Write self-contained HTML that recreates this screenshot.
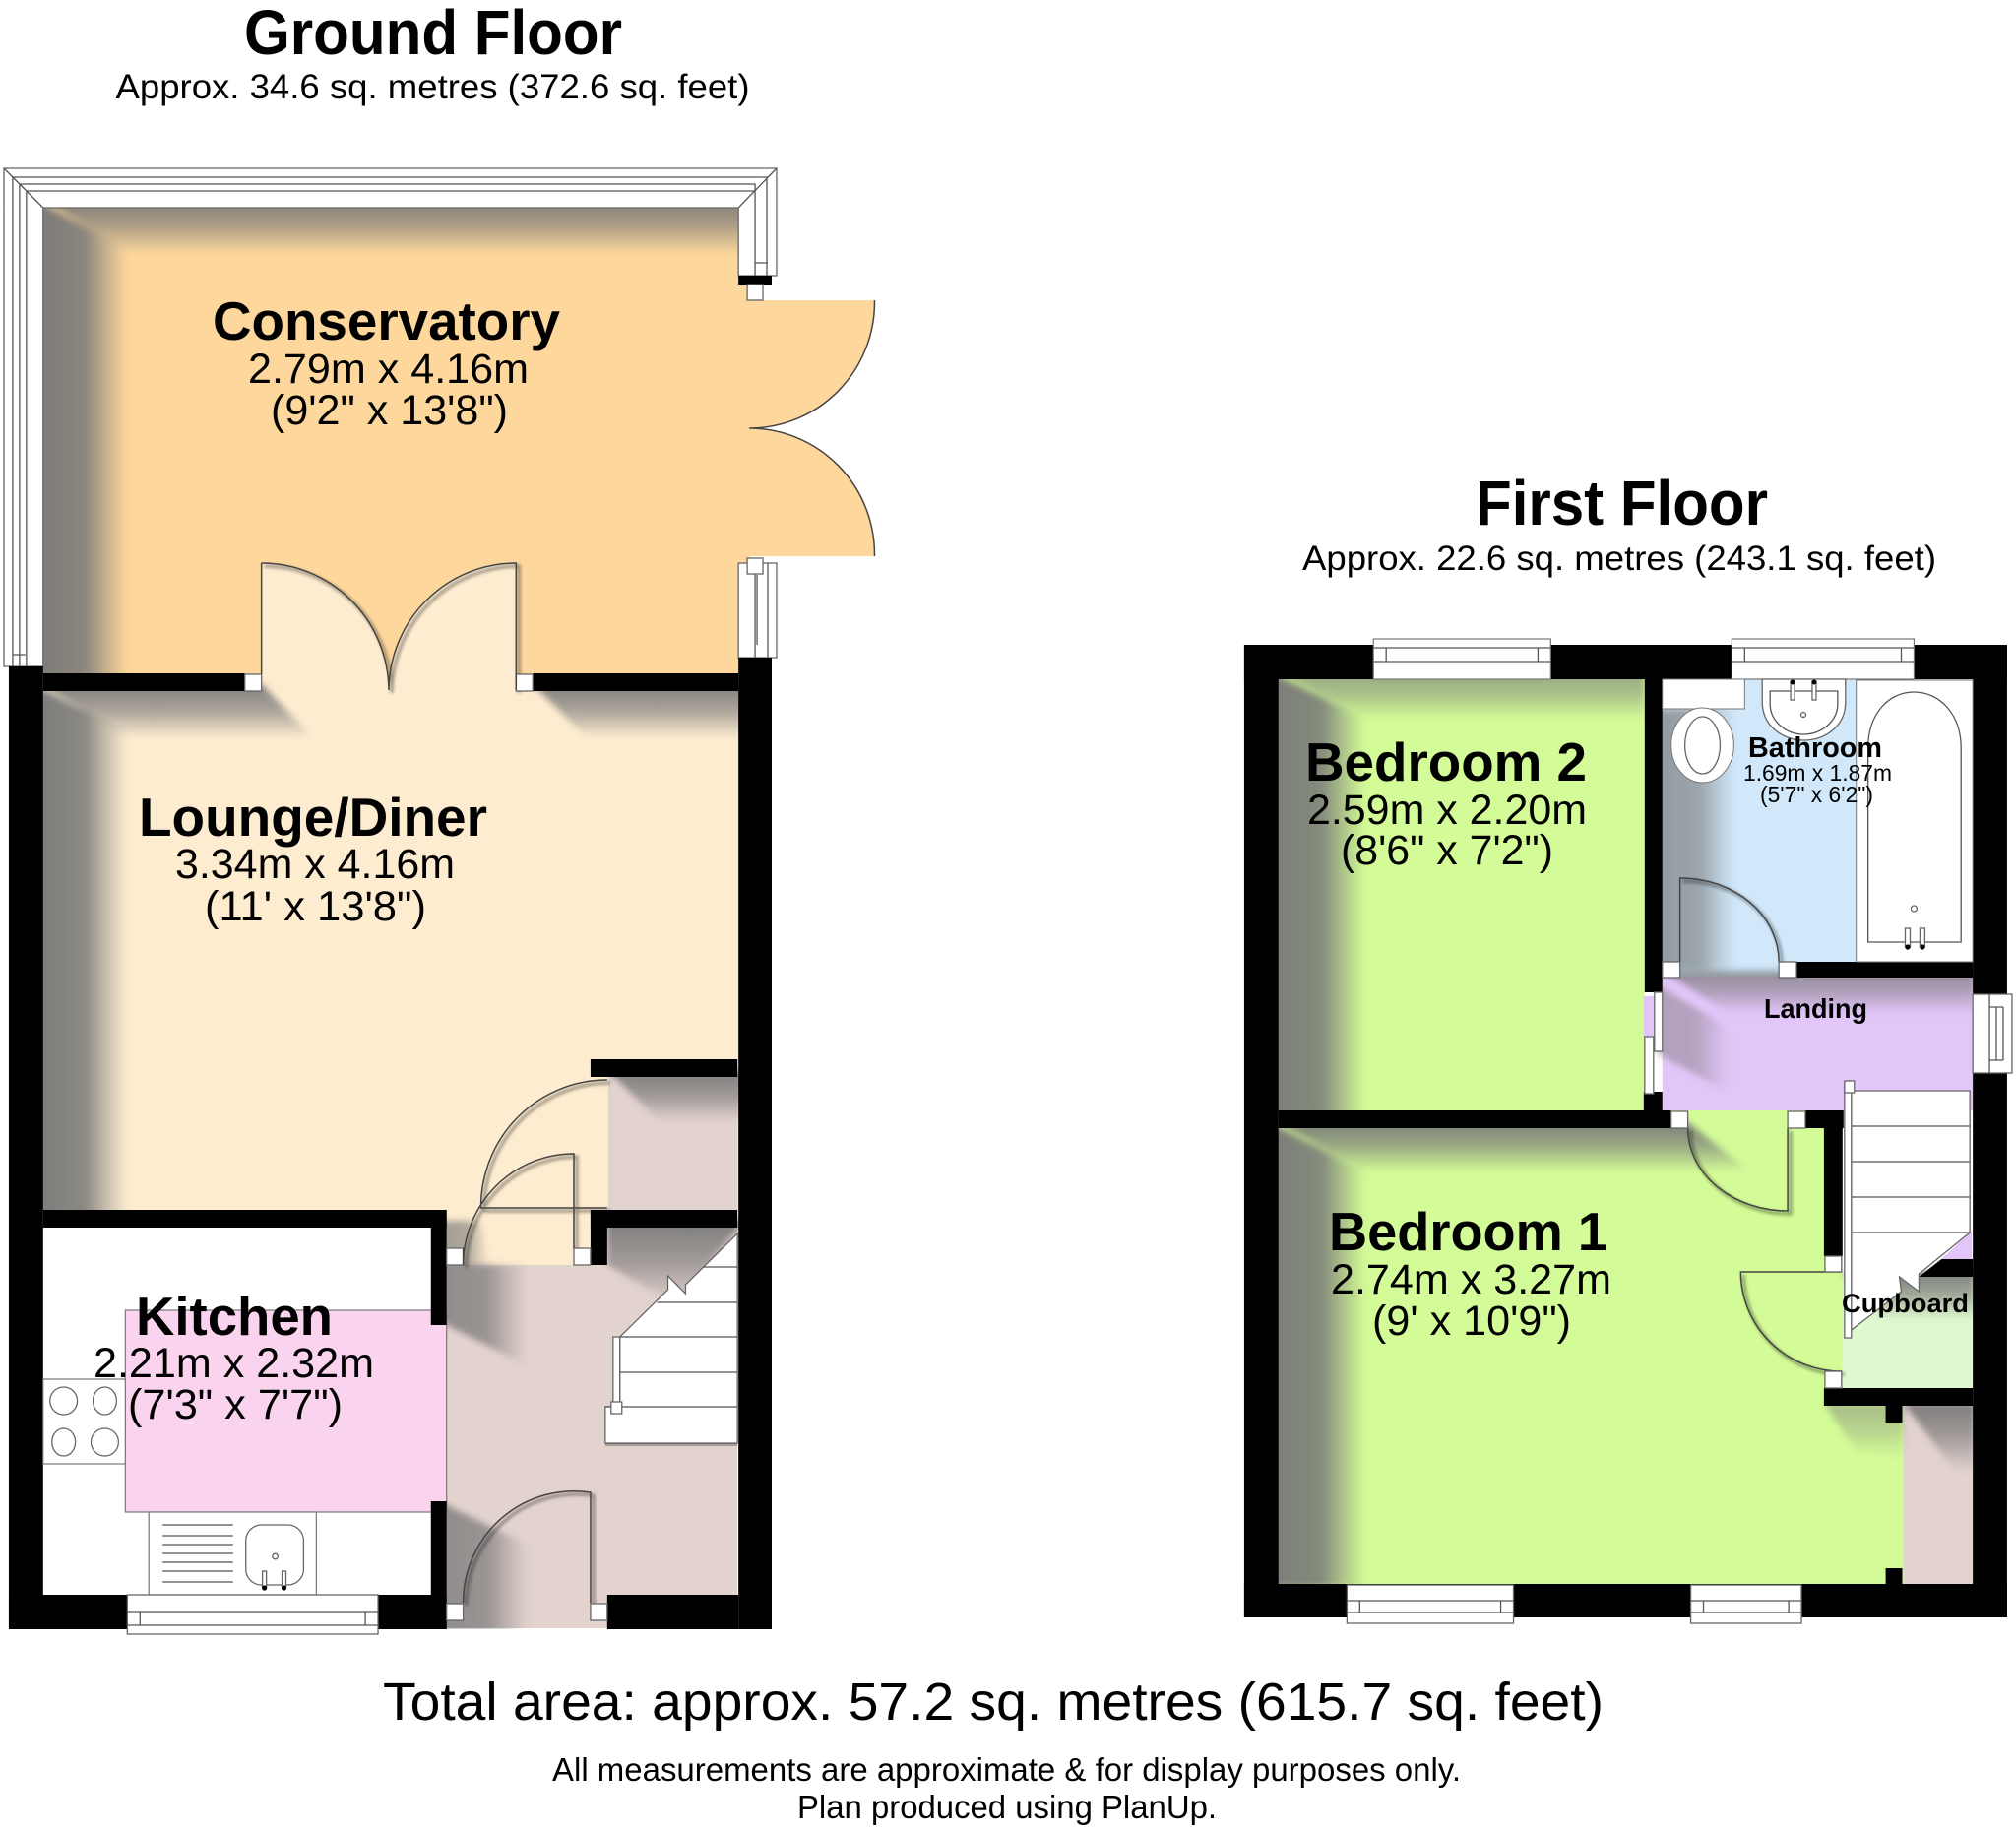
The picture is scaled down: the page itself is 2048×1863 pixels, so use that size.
<!DOCTYPE html>
<html><head><meta charset="utf-8"><title>Floor plan</title>
<style>html,body{margin:0;padding:0;background:#fff}svg{display:block}text{font-family:"Liberation Sans",Arial,sans-serif;fill:#000}.b{font-weight:bold}.l{fill:none;stroke:#555;stroke-width:1.3}.w{fill:#fff;stroke:#666;stroke-width:1.3}.d{fill:none;stroke:#444;stroke-width:1.5}</style></head>
<body>
<svg xmlns="http://www.w3.org/2000/svg" width="2048" height="1863" viewBox="0 0 2048 1863">
<defs>
<linearGradient id="sl" x1="0" x2="1" y1="0" y2="0"><stop offset="0" stop-color="#777" stop-opacity=".97"/><stop offset=".55" stop-color="#777" stop-opacity=".85"/><stop offset=".8" stop-color="#777" stop-opacity=".35"/><stop offset="1" stop-color="#777" stop-opacity="0"/></linearGradient>
<linearGradient id="st" x1="0" x2="0" y1="0" y2="1"><stop offset="0" stop-color="#777" stop-opacity=".95"/><stop offset=".5" stop-color="#777" stop-opacity=".6"/><stop offset="1" stop-color="#777" stop-opacity="0"/></linearGradient>
<filter id="bl" x="-20%" y="-20%" width="140%" height="140%"><feGaussianBlur stdDeviation="1.6"/></filter>
<filter id="bs" filterUnits="userSpaceOnUse" x="0" y="0" width="2100" height="1863"><feGaussianBlur stdDeviation="3.5"/></filter>
</defs>
<rect width="2048" height="1863" fill="#fff"/>

<!-- ========== GROUND FLOOR ========== -->
<g transform="scale(.9949 1)">
<rect x="44" y="210" width="710" height="476" fill="#fdd79c"/>
<path d="M754 290H765V305H893A128 128 0 0 1 765 435A128 128 0 0 1 893 565H765V680H754Z" fill="#fdd79c"/>
<rect x="44" y="700" width="710" height="530" fill="#fdecd0"/>
<path d="M267 701V572A130 130 0 0 1 397 701A130 130 0 0 1 527 572V701Z" fill="#fdecd0"/>
<rect x="456" y="1229" width="147" height="56" fill="#fdecd0"/>
<rect x="621" y="1093" width="132" height="137" fill="#e3d3cf"/>
<rect x="44" y="1247" width="396" height="373" fill="#fff"/>
<path d="M456 1285H753V1654H456Z" fill="#e3d3cf"/>
<rect x="603" y="1247" width="150" height="40" fill="#e3d3cf"/>

<g filter="url(#bs)">
<polygon points="34,201 130,255 130,690 34,690" fill="url(#sl)"/>
<polygon points="44,201 760,201 760,258 130,258" fill="url(#st)"/>
<polygon points="34,695 130,745 130,1235 34,1235" fill="url(#sl)"/>
<polygon points="44,695 267,695 320,750 130,750" fill="url(#st)"/>
<polygon points="544,695 760,695 760,750 600,750" fill="url(#st)"/>
<polygon points="621,1088 760,1088 760,1140 675,1140" fill="url(#st)"/>
<polygon points="448,1285 538,1285 538,1387 448,1342" fill="url(#sl)" opacity=".8"/>
<polygon points="448,1525 540,1570 540,1660 448,1660" fill="url(#sl)" opacity=".8"/>
<polygon points="620,1240 760,1240 690,1325 620,1285" fill="url(#st)"/>
<polygon points="448,1240 490,1240 500,1285 448,1285" fill="url(#sl)" opacity=".7"/>
</g>
<rect x="440" y="1654.5" width="190" height="14" fill="#fff"/>
<rect x="128" y="1331" width="328" height="205" fill="#fad4ef" stroke="#777" stroke-width="1.2"/>

<g fill="none" stroke="#000" stroke-opacity=".4" stroke-width="3" filter="url(#bl)" transform="translate(3,3)">
<path d="M267 572A130 130 0 0 1 397 701A130 130 0 0 1 527 572V701"/>
<path d="M620 1097A129 129 0 0 0 491 1227H620M473 1285A113 113 0 0 1 586 1172V1268"/>
<path d="M473 1628A113 113 0 0 1 603 1516V1628"/>
</g>

<path d="M4 171H793V280H754V211H44V677H4Z" class="w"/>
<path d="M13 677V180H783V280M20 677V187H771V280M27 677V194H771M4 171L44 211M793 171L754 211M13 665H26M771 267H784" class="l"/>
<rect x="754" y="280" width="34" height="9" fill="#000"/>
<rect x="763" y="289" width="16" height="16" class="w"/>
<rect x="754" y="572" width="39" height="96" class="w"/>
<path d="M771 572V668M784 572V668M773 584V655" class="l"/>
<rect x="763" y="567" width="16" height="16" class="w"/>
<path d="M893 305A128 128 0 0 1 765 435A128 128 0 0 1 893 565" class="d"/>

<g fill="#000">
<rect x="9" y="677" width="35" height="978"/>
<rect x="754" y="668" width="34" height="987"/>
<rect x="44" y="684" width="206" height="18"/>
<rect x="544" y="684" width="210" height="18"/>
<rect x="603" y="1076" width="150" height="18"/>
<rect x="44" y="1229" width="412" height="18"/>
<rect x="440" y="1229" width="16" height="117"/>
<rect x="603" y="1229" width="150" height="18"/>
<rect x="603" y="1229" width="17" height="56"/>
<rect x="440" y="1525" width="16" height="130"/>
<rect x="9" y="1620" width="121" height="35"/>
<rect x="386" y="1620" width="70" height="35"/>
<rect x="620" y="1620" width="134" height="35"/>
</g>
<rect x="250" y="685" width="17" height="17" class="w"/>
<rect x="527" y="685" width="17" height="17" class="w"/>
<rect x="456" y="1268" width="17" height="17" class="w"/>
<rect x="586" y="1268" width="17" height="17" class="w"/>
<rect x="456" y="1629" width="17" height="17" class="w"/>
<rect x="603" y="1629" width="17" height="17" class="w"/>

<path d="M267 572A130 130 0 0 1 397 701A130 130 0 0 1 527 572V701" class="d"/>
<path d="M267 572V685" class="d"/>
<path d="M620 1097A129 129 0 0 0 491 1227H620M473 1268V1285A113 113 0 0 1 586 1172V1268" class="d"/>
<path d="M473 1628A113 113 0 0 1 603 1516V1628" class="d"/>

<rect x="44" y="1401" width="84" height="86" fill="#fff" stroke="#777" stroke-width="1.2"/>
<ellipse cx="65" cy="1423" rx="14" ry="14" class="w"/><ellipse cx="107" cy="1423" rx="12" ry="14" class="w"/>
<ellipse cx="65" cy="1465" rx="12" ry="14" class="w"/><ellipse cx="107" cy="1465" rx="14" ry="14" class="w"/>
<rect x="152" y="1536" width="171" height="84" fill="#fff" stroke="#777" stroke-width="1.2"/>
<path d="M166 1549H238M166 1560H238M166 1569H238M166 1578H238M166 1587H238M166 1596H238M166 1607H238" class="l"/>
<rect x="251" y="1549" width="59" height="61" rx="16" class="w"/>
<circle cx="281" cy="1581" r="2.8" class="w"/>
<rect x="268" y="1596" width="4" height="16" class="w"/><rect x="288" y="1596" width="4" height="16" class="w"/>
<circle cx="270" cy="1613" r="2.6" fill="#000"/><circle cx="290" cy="1613" r="2.6" fill="#000"/>
<rect x="130" y="1620" width="256" height="40" class="w"/>
<path d="M130 1637H386M130 1651H386M143 1637V1651M373 1637V1651" class="l"/>

<path d="M753 1253L700 1305V1314L682 1296V1310L633 1358H626V1429H618V1466H753Z" class="w"/>
<path d="M718 1287H753M671 1323H753M633 1358H753M633 1394H753M618 1429H753M633 1358V1429" class="l"/>
<rect x="624" y="1424" width="11" height="12" class="w"/>
<rect x="618" y="1466" width="135" height="3" fill="#000" opacity=".25"/>
</g>

<!-- ========== FIRST FLOOR ========== -->
<g transform="translate(6.375 0) scale(.9949 1)">
<rect x="1299" y="690" width="374" height="438" fill="#d3fb97"/>
<rect x="1691" y="690" width="317" height="303" fill="#d0e8fa"/>
<rect x="1691" y="992" width="317" height="136" fill="#e3c6f9"/>
<rect x="1299" y="1146" width="558" height="463" fill="#d3fb97"/>
<rect x="1700" y="1128" width="137" height="20" fill="#d3fb97"/>
<rect x="1855" y="1276" width="20" height="136" fill="#d3fb97"/>
<rect x="1856" y="1427" width="81" height="182" fill="#d3fb97"/>
<rect x="1937" y="1427" width="71" height="182" fill="#e3d3cf"/>
<rect x="1875" y="1297" width="133" height="113" fill="#e0f8d0"/>
<path d="M2007 1250V1279H1976Z" fill="#e3c6f9"/>

<g filter="url(#bs)">
<polygon points="1289,682 1388,730 1388,1135 1289,1135" fill="url(#sl)"/>
<polygon points="1299,682 1673,682 1673,730 1388,730" fill="url(#st)" opacity=".7"/>
<polygon points="1685,720 1765,720 1765,985 1685,985" fill="url(#sl)" opacity=".7"/>
<polygon points="1691,986 2010,986 2010,1030 1760,1030" fill="url(#st)" opacity=".8"/>
<polygon points="1685,1000 1760,1045 1760,1110 1685,1070" fill="url(#sl)" opacity=".5"/>
<polygon points="1289,1140 1388,1190 1388,1612 1289,1612" fill="url(#sl)"/>
<polygon points="1299,1140 1717,1140 1780,1190 1388,1190" fill="url(#st)"/>
<polygon points="1856,1425 1937,1425 1937,1480 1890,1475" fill="url(#st)" opacity=".5"/>
<polygon points="1937,1425 2010,1425 2010,1495 1990,1495" fill="url(#st)"/>
<polygon points="1875,1292 2010,1292 2010,1340 1915,1340" fill="url(#st)"/>
</g>

<g fill="none" stroke="#000" stroke-opacity=".4" stroke-width="3" filter="url(#bl)" transform="translate(3,3)">
<path d="M1709 892A100 85 0 0 1 1810 977"/>
<path d="M1717 1146A102 84 0 0 0 1819 1230V1146"/>
<path d="M1771 1292A102 101 0 0 0 1874 1393"/>
</g>

<g fill="#000">
<rect x="1264" y="655" width="779" height="35"/>
<rect x="1264" y="655" width="35" height="988"/>
<rect x="2008" y="655" width="35" height="988"/>
<rect x="1264" y="1609" width="779" height="34"/>
<rect x="1673" y="690" width="18" height="318"/>
<rect x="1828" y="977" width="180" height="16"/>
<rect x="1672" y="1109" width="19" height="20"/>
<rect x="1299" y="1128" width="401" height="18"/>
<rect x="1837" y="1128" width="39" height="18"/>
<rect x="1856" y="1128" width="19" height="148"/>
<rect x="1856" y="1410" width="152" height="18"/>
<rect x="1919" y="1427" width="17" height="18"/>
<rect x="1919" y="1593" width="17" height="16"/>
<polygon points="1976,1279 2008,1279 2008,1297 1953,1297"/>
</g>
<rect x="1672" y="1012" width="11" height="41" fill="#e3c6f9"/>
<rect x="1683" y="1008" width="8" height="60" class="w"/>
<rect x="1673" y="1053" width="9" height="58" class="w"/>

<rect x="1396" y="649" width="181" height="41" fill="#fff" stroke="#777" stroke-width="1.2"/>
<path d="M1396 658H1577M1396 672H1577M1409 658V672M1564 658V672" class="l"/>
<rect x="1762" y="649" width="186" height="41" fill="#fff" stroke="#777" stroke-width="1.2"/>
<path d="M1762 658H1948M1762 672H1948M1775 658V672M1935 658V672" class="l"/>
<rect x="2008" y="1010" width="40" height="80" class="w"/>
<path d="M2025 1010V1090M2032 1023V1077M2039 1023V1077M2025 1023H2039M2025 1077H2039" class="l"/>
<rect x="1369" y="1610" width="170" height="39" class="w"/>
<path d="M1369 1626H1539M1369 1638H1539M1382 1626V1638M1526 1626V1638" class="l"/>
<rect x="1720" y="1610" width="113" height="39" class="w"/>
<path d="M1720 1626H1833M1720 1638H1833M1733 1626V1638M1820 1626V1638" class="l"/>

<rect x="1691" y="690" width="84" height="30" fill="#fff" stroke="#777" stroke-width="1"/>
<ellipse cx="1732" cy="757" rx="32" ry="38" fill="#fff" stroke="#777"/>
<ellipse cx="1732" cy="757" rx="18" ry="29" class="w"/>
<path d="M1793 690V713C1793 738 1815 752 1835 752C1857 752 1878 738 1878 713V690Z" class="w"/>
<path d="M1801 702V715C1801 733 1818 746 1835 746C1853 746 1870 733 1870 715V702Z" class="l"/>
<rect x="1822" y="692" width="4" height="19" class="w"/><rect x="1844" y="692" width="4" height="19" class="w"/>
<circle cx="1824" cy="693" r="2.5" fill="#000"/><circle cx="1846" cy="693" r="2.5" fill="#000"/>
<circle cx="1835" cy="726" r="2.5" class="w"/>
<rect x="1889" y="691" width="119" height="286" fill="#fff" stroke="#777"/>
<path d="M1901 957V760C1901 725 1922 703 1948 703C1974 703 1996 725 1996 760V957Z" class="l"/>
<circle cx="1948" cy="923" r="3" class="w"/>
<rect x="1939" y="943" width="5" height="19" class="w"/><rect x="1954" y="943" width="5" height="19" class="w"/>
<circle cx="1941.5" cy="962" r="2.6" fill="#000"/><circle cx="1956.5" cy="962" r="2.6" fill="#000"/>
<path d="M1709 977V892A100 85 0 0 1 1810 977" class="d"/>
<rect x="1691" y="977" width="18" height="16" class="w"/>
<rect x="1810" y="977" width="18" height="16" class="w"/>

<path d="M1884 1108H2005V1252L1953 1294V1312L1933 1297L1935 1312L1884 1351Z" class="w"/>
<path d="M1884 1144H2005M1884 1180H2005M1884 1216H2005M1884 1252H2005" class="l"/>
<rect x="1877" y="1102" width="7" height="257" class="w"/>
<rect x="1877" y="1098" width="10" height="12" class="w"/>

<path d="M1819 1146V1230A102 84 0 0 1 1717 1146" class="d"/>
<rect x="1700" y="1129" width="17" height="17" class="w"/>
<rect x="1819" y="1129" width="18" height="17" class="w"/>
<path d="M1874 1292H1771A103 101 0 0 0 1874 1393" class="d"/>
<rect x="1857" y="1276" width="17" height="16" class="w"/>
<rect x="1857" y="1393" width="17" height="17" class="w"/>
</g>

<!-- ========== TEXT ========== -->
<text x="248" y="55" font-size="64" class="b" textLength="384" lengthAdjust="spacingAndGlyphs">Ground Floor</text>
<text x="117.5" y="100" font-size="35" textLength="644" lengthAdjust="spacingAndGlyphs">Approx. 34.6 sq. metres (372.6 sq. feet)</text>
<text x="1499" y="533" font-size="64" class="b" textLength="297" lengthAdjust="spacingAndGlyphs">First Floor</text>
<text x="1323" y="579" font-size="35" textLength="644" lengthAdjust="spacingAndGlyphs">Approx. 22.6 sq. metres (243.1 sq. feet)</text>

<text x="216" y="345" font-size="55" class="b" textLength="353" lengthAdjust="spacingAndGlyphs">Conservatory</text>
<text x="252" y="389" font-size="43" textLength="285" lengthAdjust="spacingAndGlyphs">2.79m x 4.16m</text>
<text x="275" y="431" font-size="43" textLength="241" lengthAdjust="spacingAndGlyphs">(9'2" x 13'8")</text>

<text x="141" y="849" font-size="55" class="b" textLength="354" lengthAdjust="spacingAndGlyphs">Lounge/Diner</text>
<text x="178" y="892" font-size="43" textLength="284" lengthAdjust="spacingAndGlyphs">3.34m x 4.16m</text>
<text x="208" y="935" font-size="43" textLength="225" lengthAdjust="spacingAndGlyphs">(11' x 13'8")</text>

<text x="138" y="1356" font-size="55" class="b" textLength="200" lengthAdjust="spacingAndGlyphs">Kitchen</text>
<text x="95" y="1399" font-size="43" textLength="285" lengthAdjust="spacingAndGlyphs">2.21m x 2.32m</text>
<text x="130" y="1441" font-size="43" textLength="218" lengthAdjust="spacingAndGlyphs">(7'3" x 7'7")</text>

<text x="1326" y="793" font-size="55" class="b" textLength="286" lengthAdjust="spacingAndGlyphs">Bedroom 2</text>
<text x="1328" y="837" font-size="43" textLength="284" lengthAdjust="spacingAndGlyphs">2.59m x 2.20m</text>
<text x="1362" y="878" font-size="43" textLength="216" lengthAdjust="spacingAndGlyphs">(8'6" x 7'2")</text>

<text x="1776" y="769" font-size="29" class="b" textLength="136" lengthAdjust="spacingAndGlyphs">Bathroom</text>
<text x="1771" y="793" font-size="23" textLength="151" lengthAdjust="spacingAndGlyphs">1.69m x 1.87m</text>
<text x="1788" y="815" font-size="23" textLength="115" lengthAdjust="spacingAndGlyphs">(5'7" x 6'2")</text>

<text x="1792" y="1034" font-size="28" class="b" textLength="105" lengthAdjust="spacingAndGlyphs">Landing</text>

<text x="1350" y="1270" font-size="55" class="b" textLength="283" lengthAdjust="spacingAndGlyphs">Bedroom 1</text>
<text x="1352" y="1314" font-size="43" textLength="285" lengthAdjust="spacingAndGlyphs">2.74m x 3.27m</text>
<text x="1394" y="1356" font-size="43" textLength="202" lengthAdjust="spacingAndGlyphs">(9' x 10'9")</text>

<text x="1871" y="1333" font-size="27" class="b" textLength="129" lengthAdjust="spacingAndGlyphs">Cupboard</text>

<text x="389" y="1747" font-size="54" textLength="1240" lengthAdjust="spacingAndGlyphs">Total area: approx. 57.2 sq. metres (615.7 sq. feet)</text>
<text x="561" y="1809" font-size="33" textLength="923" lengthAdjust="spacingAndGlyphs">All measurements are approximate &amp; for display purposes only.</text>
<text x="810" y="1847" font-size="33" textLength="426" lengthAdjust="spacingAndGlyphs">Plan produced using PlanUp.</text>
</svg>
</body></html>
